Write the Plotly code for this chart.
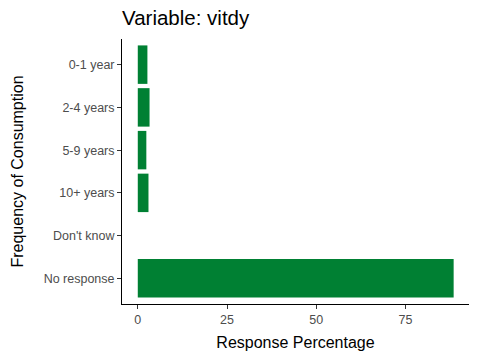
import plotly.graph_objects as go

categories = ["0-1 year", "2-4 years", "5-9 years", "10+ years", "Don't know", "No response"]
values = [2.7, 3.3, 2.4, 3.0, 0.0, 88.5]
x_ticks = [0, 25, 50, 75]

fig = go.Figure(go.Bar(
    x=values, y=categories, orientation="h",
    marker=dict(color="#008033", line=dict(width=0)),
    width=0.9,
))

font = "Liberation Sans, Arial, sans-serif"
fig.update_layout(
    width=480, height=360,
    margin=dict(l=122, r=11, t=39, b=56),
    paper_bgcolor="white", plot_bgcolor="white",
    showlegend=False,
    font=dict(family=font, color="black"),
    title=dict(text="Variable: vitdy", x=0, xref="paper", xanchor="left",
               y=1, yref="container", yanchor="top", pad=dict(t=11),
               font=dict(size=20.5, family=font, color="black"), automargin=False),
)
fig.update_xaxes(
    range=[-4.42, 92.8], tickvals=x_ticks, ticks="outside", ticklen=4,
    tickcolor="#333333", tickfont=dict(size=12.5, color="#4D4D4D"),
    showline=True, linecolor="black", linewidth=1, showgrid=False, zeroline=False,
    automargin=False,
    title=dict(text="Response Percentage", font=dict(size=16, color="black"), standoff=10),
)
fig.update_yaxes(
    categoryorder="array", categoryarray=categories,
    range=[5.6, -0.6], ticks="outside", ticklen=4,
    tickcolor="#333333", tickfont=dict(size=12.5, color="#4D4D4D"),
    showline=True, linecolor="black", linewidth=1, showgrid=False, zeroline=False,
    automargin=False,
    title=dict(text="Frequency of Consumption", font=dict(size=16, color="black"), standoff=16),
)
fig.write_html("out.html", config={"displayModeBar": False},
               post_script="document.body.style.margin='0';")
